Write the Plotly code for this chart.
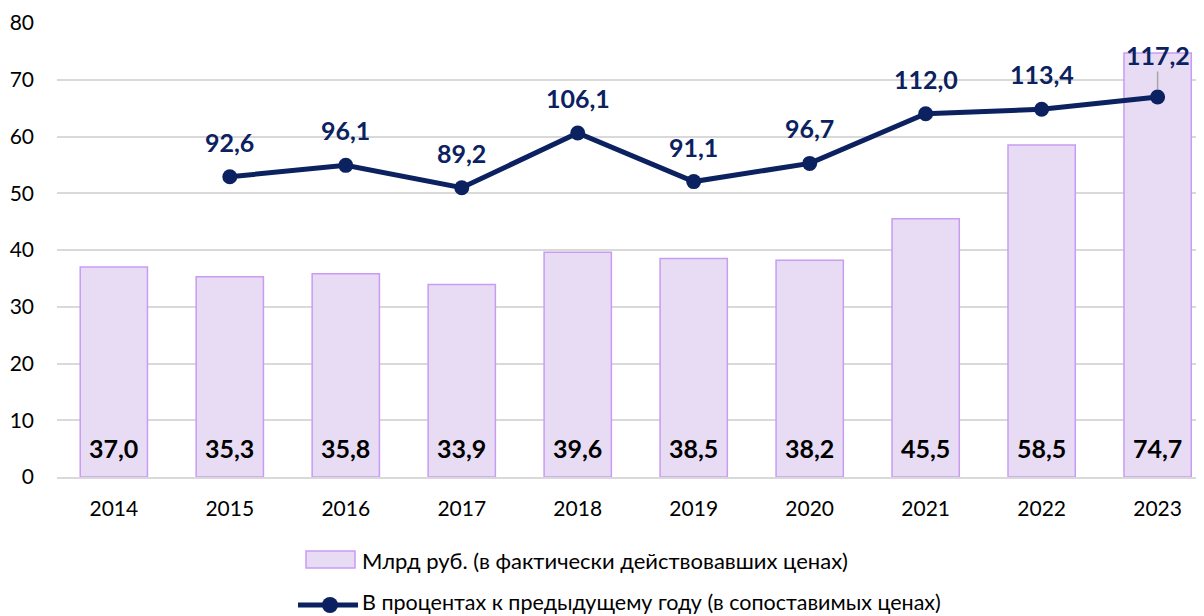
import plotly.graph_objects as go

years = ["2014", "2015", "2016", "2017", "2018", "2019", "2020", "2021", "2022", "2023"]
bar_values = [37.0, 35.3, 35.8, 33.9, 39.6, 38.5, 38.2, 45.5, 58.5, 74.7]
pct_values = [None, 92.6, 96.1, 89.2, 106.1, 91.1, 96.7, 112.0, 113.4, 117.2]
bar_name = "Млрд руб. (в фактически действовавших ценах)"
line_name = "В процентах к предыдущему году (в сопоставимых ценах)"
y_ticks = [0, 10, 20, 30, 40, 50, 60, 70, 80]

FONT = "Lato"
NAVY = "#0B2160"
BAR_FILL = "#E8DCF4"
BAR_LINE = "#C99CF2"
GRID = "#D9D9D9"

# page has an 8px body margin: figure occupies x 8..1204, y 8..616
OFF = 8
W, H = 1204 - OFF, 616 - OFF
PL, PR, PT, PB = 57 - OFF, 1204 - OFF, 23 - OFF, 477 - OFF  # plot area in figure px

def fmt(v):
    return f"{v:.1f}".replace(".", ",")

fig = go.Figure()
fig.add_trace(go.Bar(
    x=years, y=bar_values, name=bar_name,
    marker=dict(color=BAR_FILL, line=dict(color=BAR_LINE, width=1.5)),
    width=0.58, showlegend=False, hoverinfo="skip",
))
fig.add_trace(go.Scatter(
    x=years, y=pct_values, name=line_name, yaxis="y2",
    mode="lines+markers",
    line=dict(color=NAVY, width=5),
    marker=dict(color=NAVY, size=15),
    showlegend=False, hoverinfo="skip",
))

annotations = []
for i, v in enumerate(bar_values):
    annotations.append(dict(
        x=i, y=0, xref="x", yref="y", text=f"<b>{fmt(v)}</b>",
        showarrow=False, yanchor="middle", yshift=29,
        font=dict(family=FONT, size=25, color="black"),
    ))
for i, v in enumerate(pct_values):
    if v is None:
        continue
    if i == len(years) - 1:
        annotations.append(dict(
            x=i, y=v, xref="x", yref="y2", text=f"<b>{fmt(v)}</b>",
            showarrow=True, ax=0, ay=-42, arrowhead=0, arrowwidth=1.5,
            arrowcolor="#A6A6A6", standoff=8,
            font=dict(family=FONT, size=25, color=NAVY),
        ))
    else:
        annotations.append(dict(
            x=i, y=v, xref="x", yref="y2", text=f"<b>{fmt(v)}</b>",
            showarrow=False, yanchor="middle", yshift=35,
            font=dict(family=FONT, size=25, color=NAVY),
        ))

# custom legend, positions given in reference screen pixels
def px_x(p):
    return (p - OFF - PL) / float(PR - PL)

def px_y(p):
    return (PB - (p - OFF)) / float(PB - PT)

shapes = [
    dict(type="rect", xref="paper", yref="paper",
         x0=px_x(306), x1=px_x(355), y0=px_y(568), y1=px_y(551),
         fillcolor=BAR_FILL, line=dict(color=BAR_LINE, width=1.5)),
    dict(type="line", xref="paper", yref="paper",
         x0=px_x(298), x1=px_x(358), y0=px_y(605), y1=px_y(605),
         line=dict(color=NAVY, width=5)),
    dict(type="circle", xref="paper", yref="paper",
         x0=px_x(322), x1=px_x(338), y0=px_y(613), y1=px_y(597),
         fillcolor=NAVY, line=dict(color=NAVY, width=0)),
]
annotations.append(dict(
    x=px_x(360), y=px_y(560), xref="paper", yref="paper", text=bar_name,
    showarrow=False, xanchor="left", yanchor="middle",
    font=dict(family=FONT, size=22, color="black"),
))
annotations.append(dict(
    x=px_x(360), y=px_y(602), xref="paper", yref="paper", text=line_name,
    showarrow=False, xanchor="left", yanchor="middle",
    font=dict(family=FONT, size=21.5, color="black"),
))

fig.update_layout(
    width=W, height=H,
    margin=dict(l=PL, r=W - PR, t=PT, b=H - PB),
    paper_bgcolor="white", plot_bgcolor="white",
    font=dict(family=FONT, size=20, color="black"),
    xaxis=dict(
        type="category", range=[-0.49, 9.40],
        showgrid=False, showline=True, linecolor=GRID, linewidth=1.5,
        ticks="", ticklabelstandoff=12,
        tickfont=dict(family=FONT, size=21, color="black"),
    ),
    yaxis=dict(
        range=[0, 80], tickvals=y_ticks, showgrid=True, gridcolor=GRID, gridwidth=1.5,
        zeroline=False, showline=False, ticks="", ticklabelstandoff=22,
        tickfont=dict(family=FONT, size=21, color="black"),
    ),
    yaxis2=dict(range=[0, 140], overlaying="y", visible=False),
    annotations=annotations,
    shapes=shapes,
    showlegend=False,
)

fig.write_html("out.html")
